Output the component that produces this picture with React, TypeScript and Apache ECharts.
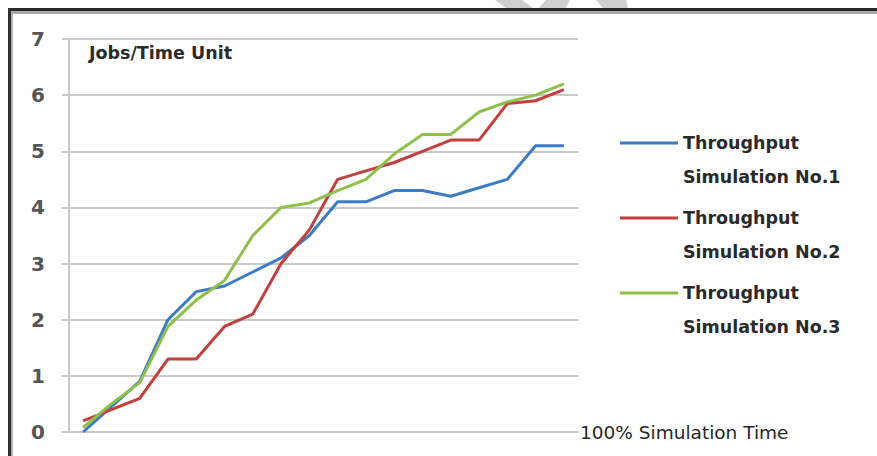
import React, { useEffect, useRef } from "react";
import * as echarts from "echarts";

// Simulation steps along the x axis (start to 100% simulation time)
const steps: string[] = [
  "1", "2", "3", "4", "5", "6", "7", "8", "9",
  "10", "11", "12", "13", "14", "15", "16", "17", "18",
];

// Throughput (jobs per time unit) for each simulation run
const sim1: number[] = [0.0, 0.45, 0.9, 2.0, 2.5, 2.6, 2.85, 3.1, 3.5, 4.1, 4.1, 4.3, 4.3, 4.2, 4.35, 4.5, 5.1, 5.1];
const sim2: number[] = [0.2, 0.4, 0.6, 1.3, 1.3, 1.88, 2.1, 3.0, 3.6, 4.5, 4.65, 4.8, 5.0, 5.2, 5.2, 5.85, 5.9, 6.1];
const sim3: number[] = [0.08, 0.5, 0.88, 1.88, 2.35, 2.7, 3.5, 4.0, 4.08, 4.3, 4.5, 4.95, 5.3, 5.3, 5.7, 5.88, 6.0, 6.2];

const seriesNames: string[] = [
  "Throughput\nSimulation No.1",
  "Throughput\nSimulation No.2",
  "Throughput\nSimulation No.3",
];
const seriesColors: string[] = ["#3d7bc4", "#c23f3d", "#8fc049"];
const yTicks: number[] = [0, 1, 2, 3, 4, 5, 6, 7];

const GRID_GRAY = "#c9c9c9";
const FONT = "'DejaVu Sans', 'Liberation Sans', sans-serif";

export default function App() {
  const ref = useRef<HTMLDivElement>(null);

  useEffect(() => {
    if (!ref.current) return;
    const chart = echarts.init(ref.current, undefined, { renderer: "svg" });
    const values = [sim1, sim2, sim3];

    const legendTops = [92, 167, 242];
    const legends = seriesNames.map((name, i) => ({
      data: [name],
      left: 620,
      top: legendTops[i],
      padding: 0,
      icon: "rect",
      itemWidth: 58,
      itemHeight: 3,
      itemGap: 0,
      selectedMode: false,
      formatter: (n: string) => "\n" + n,
      textStyle: {
        fontFamily: FONT,
        fontSize: 17.5,
        fontWeight: "bold",
        color: "#2a2a2a",
        lineHeight: 34,
      },
    }));

    chart.setOption({
      animation: false,
      backgroundColor: "#ffffff",
      title: {
        text: "Jobs/Time Unit",
        left: 89,
        top: 44,
        padding: 0,
        textStyle: {
          fontFamily: FONT,
          fontSize: 17.5,
          fontWeight: "bold",
          color: "#2a2a2a",
        },
      },
      legend: legends,
      grid: { left: 69, right: 299, top: 39, bottom: 24 },
      xAxis: {
        type: "category",
        data: steps,
        boundaryGap: true,
        axisLine: { show: true, lineStyle: { color: GRID_GRAY, width: 2 } },
        axisTick: { show: false },
        axisLabel: { show: false },
        splitLine: { show: false },
        name: "100% Simulation Time",
        nameLocation: "end",
        nameGap: 2,
        nameTextStyle: {
          fontFamily: FONT,
          fontSize: 18.5,
          color: "#262626",
          align: "left",
          verticalAlign: "middle",
        },
      },
      yAxis: {
        type: "value",
        min: yTicks[0],
        max: yTicks[yTicks.length - 1],
        interval: 1,
        axisLine: { show: true, lineStyle: { color: GRID_GRAY, width: 2 } },
        axisTick: { show: true, length: 7, lineStyle: { color: GRID_GRAY, width: 2 } },
        splitLine: { show: true, lineStyle: { color: GRID_GRAY, width: 2 } },
        axisLabel: {
          margin: 24,
          fontFamily: FONT,
          fontSize: 20,
          fontWeight: "bold",
          color: "#555555",
        },
      },
      series: seriesNames.map((name, i) => ({
        name,
        type: "line",
        data: values[i],
        symbol: "none",
        color: seriesColors[i],
        lineStyle: { width: 3, color: seriesColors[i] },
      })),
      graphic: [
        // faint marks above the frame
        {
          type: "polygon",
          silent: true,
          shape: { points: [[495, 0], [522, 0], [534, 9], [507, 9]] },
          style: { fill: "#cfcfcf" },
        },
        {
          type: "polygon",
          silent: true,
          shape: { points: [[546, 0], [570, 0], [565, 9], [538, 9]] },
          style: { fill: "#cfcfcf" },
        },
        {
          type: "polygon",
          silent: true,
          shape: { points: [[596, 0], [626, 0], [628, 9], [604, 9]] },
          style: { fill: "#cfcfcf" },
        },
        // dark frame along the top and left edges
        {
          type: "rect",
          silent: true,
          shape: { x: 8, y: 8, width: 869, height: 3 },
          style: { fill: "#262626" },
        },
        {
          type: "rect",
          silent: true,
          shape: { x: 8, y: 11, width: 869, height: 3 },
          style: { fill: "#a8a8a8" },
        },
        {
          type: "rect",
          silent: true,
          shape: { x: 8, y: 8, width: 3, height: 448 },
          style: { fill: "#303030" },
        },
        {
          type: "rect",
          silent: true,
          shape: { x: 11, y: 11, width: 2, height: 445 },
          style: { fill: "#b0b0b0" },
        },
      ],
    });

    return () => chart.dispose();
  }, []);

  return (
    <div
      ref={ref}
      style={{ position: "fixed", left: 0, top: 0, width: 877, height: 456 }}
    />
  );
}
